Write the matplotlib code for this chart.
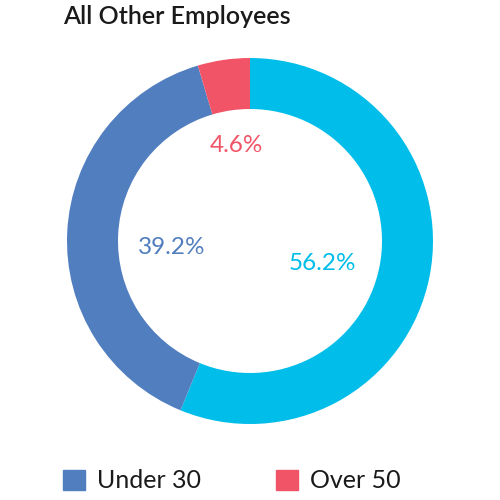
import matplotlib.pyplot as plt
from matplotlib.patches import Patch

# Data
categories = ["30 to 50", "Under 30", "Over 50"]
shares = [56.2, 39.2, 4.6]
colors = ["#00BDE9", "#517EBF", "#F05466"]
legend_items = ["Under 30", "Over 50"]

plt.rcParams["font.family"] = ["Lato", "DejaVu Sans"]

fig = plt.figure(figsize=(5, 5), dpi=100)
ax = fig.add_axes([0, 0, 1, 1])

# donut, clockwise from 12 o'clock
wedges, _ = ax.pie(
    shares,
    colors=colors,
    startangle=90,
    counterclock=False,
    center=(250, 259),
    radius=183,
    wedgeprops={"width": 51, "linewidth": 0},
)

# percent labels inside the ring (pixel positions, y measured from bottom)
label_pos = [(322, 236.5), (172, 252.5), (236.5, 355)]
for share, col, (x, y) in zip(shares, colors, label_pos):
    ax.text(x, y, f"{share:.1f}%", color=col, fontsize=17.5,
            ha="center", va="center")

ax.set_xlim(0, 500)
ax.set_ylim(0, 500)
ax.set_aspect("equal")
ax.axis("off")

fig.text(63 / 500, 1 - 17 / 500, "All Other Employees", fontsize=18,
         fontweight="semibold", color="#1a1a1a", ha="left", va="center")

handles = [Patch(color=colors[categories.index(c)]) for c in legend_items]
fig.legend(
    handles, legend_items,
    loc="center left", bbox_to_anchor=(63 / 500, 1 - 481 / 500),
    ncol=2, frameon=False,
    handlelength=0.88, handleheight=0.88, handletextpad=0.48,
    columnspacing=3.0, borderpad=0, borderaxespad=0,
    prop={"weight": "normal", "size": 18},
    labelcolor="#1a1a1a",
)

fig.savefig("out.png", dpi=100)
